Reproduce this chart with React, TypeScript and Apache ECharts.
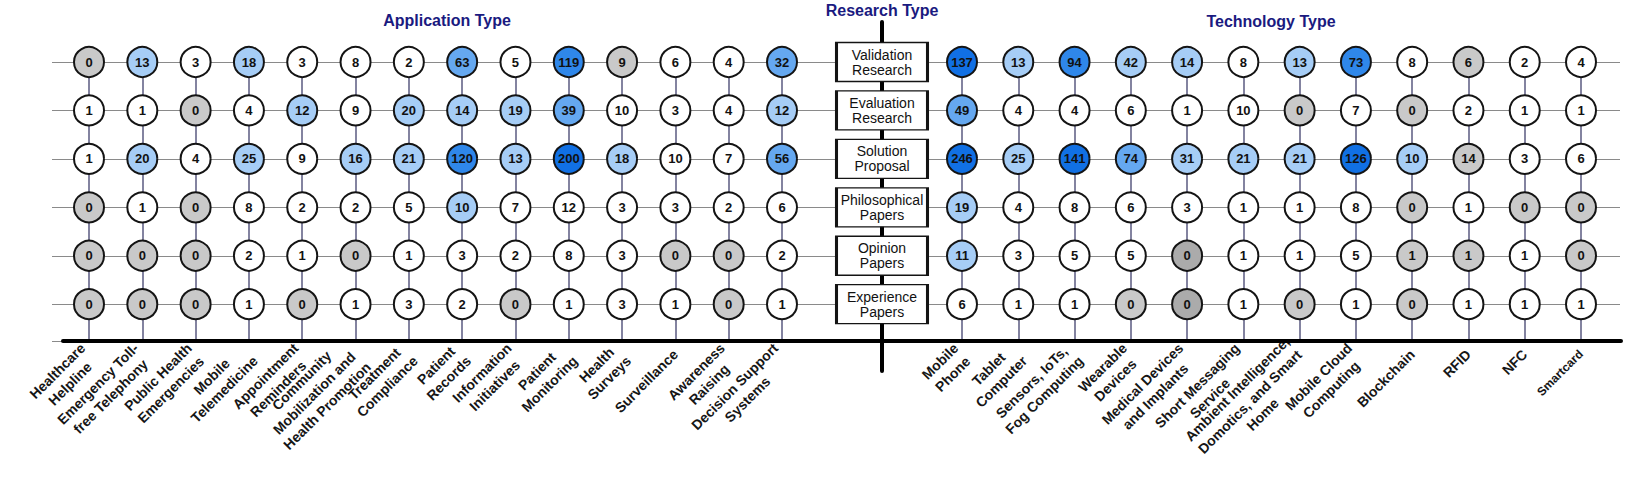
import React, { useEffect, useRef } from 'react';
import * as echarts from 'echarts';

// ---------------- data ----------------
const researchTypes = [
  'Validation\nResearch',
  'Evaluation\nResearch',
  'Solution\nProposal',
  'Philosophical\nPapers',
  'Opinion\nPapers',
  'Experience\nPapers',
];

const appCategories = [
  'Healthcare\nHelpline',
  'Emergency Toll-\nfree Telephony',
  'Public Health\nEmergencies',
  'Mobile\nTelemedicine',
  'Appointment\nReminders',
  'Community\nMobilization and\nHealth Promotion',
  'Treatment\nCompliance',
  'Patient\nRecords',
  'Information\nInitiatives',
  'Patient\nMonitoring',
  'Health\nSurveys',
  'Surveillance',
  'Awareness\nRaising',
  'Decision Support\nSystems',
];

// one array per column, rows top→bottom (Validation … Experience)
const appValues = [
  [0, 1, 1, 0, 0, 0],
  [13, 1, 20, 1, 0, 0],
  [3, 0, 4, 0, 0, 0],
  [18, 4, 25, 8, 2, 1],
  [3, 12, 9, 2, 1, 0],
  [8, 9, 16, 2, 0, 1],
  [2, 20, 21, 5, 1, 3],
  [63, 14, 120, 10, 3, 2],
  [5, 19, 13, 7, 2, 0],
  [119, 39, 200, 12, 8, 1],
  [9, 10, 18, 3, 3, 3],
  [6, 3, 10, 3, 0, 1],
  [4, 4, 7, 2, 0, 0],
  [32, 12, 56, 6, 2, 1],
];

// shade codes: w white, g grey, d dark grey, l light blue, m mid blue, b blue, x deep blue
const appShades = [
  'gwwggg',
  'lwlwgg',
  'wgwggg',
  'lwlwww',
  'wlwwwg',
  'wwlwgw',
  'wllwww',
  'mlblww',
  'wllwwg',
  'bmxwww',
  'gwlwww',
  'wwwwgw',
  'wwwwgg',
  'mlmwww',
];

const techCategories = [
  'Mobile\nPhone',
  'Tablet\nComputer',
  'Sensors, IoTs,\nFog Computing',
  'Wearable\nDevices',
  'Medical Devices\nand Implants',
  'Short Messaging\nService',
  'Ambient Intelligence,\nDomotics, and Smart\nHome',
  'Mobile Cloud\nComputing',
  'Blockchain',
  'RFID',
  'NFC',
  'Smartcard',
];

const techValues = [
  [137, 49, 246, 19, 11, 6],
  [13, 4, 25, 4, 3, 1],
  [94, 4, 141, 8, 5, 1],
  [42, 6, 74, 6, 5, 0],
  [14, 1, 31, 3, 0, 0],
  [8, 10, 21, 1, 1, 1],
  [13, 0, 21, 1, 1, 0],
  [73, 7, 126, 8, 5, 1],
  [8, 0, 10, 0, 1, 0],
  [6, 2, 14, 1, 1, 1],
  [2, 1, 3, 0, 1, 1],
  [4, 1, 6, 0, 0, 1],
];

const techShades = [
  'xmxllw',
  'lwlwww',
  'bwxwww',
  'lwmwwg',
  'lwlwdd',
  'wwlwww',
  'lglwwg',
  'bwxwww',
  'wglggg',
  'gwgwgw',
  'wwwgww',
  'wwwggw',
];

const titles = ['Application Type', 'Research Type', 'Technology Type'];

// ---------------- styling ----------------
const palette: Record<string, string> = {
  w: '#ffffff',
  g: '#c9c9c9',
  d: '#ababab',
  l: '#a6cdf6',
  m: '#65a8f0',
  b: '#2f87ea',
  x: '#1170e4',
};

const FONT = '"Liberation Sans", Arial, Helvetica, sans-serif';
const ROW_TOP = 62;
const BASE = 341;
const ROW_MAX = 5.76;
const UNIT = (BASE - ROW_TOP) / ROW_MAX;
const NAVY = '#1a1a80';

function circleData(values: number[][], shades: string[]) {
  const out: any[] = [];
  values.forEach((col, i) => {
    col.forEach((v, r) => {
      out.push({
        value: [i, r, v],
        itemStyle: { color: palette[shades[i][r]] },
      });
    });
  });
  return out;
}

function rowYAxis(gridIndex: number, showLines: boolean) {
  return {
    type: 'value',
    gridIndex,
    inverse: true,
    min: 0,
    max: ROW_MAX,
    interval: 1,
    show: showLines,
    axisLine: { show: false },
    axisTick: { show: false },
    axisLabel: { show: false },
    splitLine: { show: showLines, lineStyle: { color: '#8a8a8a', width: 1 } },
  };
}

const labelRich = {
  c: {
    align: 'center',
    fontSize: 14,
    fontWeight: 'bold',
    lineHeight: 18,
    color: '#161616',
    fontFamily: FONT,
  },
  s: {
    align: 'center',
    fontSize: 12,
    fontWeight: 'bold',
    lineHeight: 18,
    color: '#161616',
    fontFamily: FONT,
  },
};

function catXAxis(gridIndex: number, cats: any[]) {
  return {
    type: 'category',
    gridIndex,
    data: cats,
    boundaryGap: false,
    position: 'bottom',
    axisLine: { show: false, onZero: false },
    axisTick: { show: false, interval: 0 },
    axisLabel: {
      interval: 0,
      rotate: 45,
      margin: 11,
      fontSize: 14,
      fontWeight: 'bold',
      lineHeight: 18,
      color: '#161616',
      fontFamily: FONT,
      formatter: (v: string) =>
        v
          .split('\n')
          .map((line) => `{${v === 'Smartcard' ? 's' : 'c'}|${line}}`)
          .join('\n'),
      rich: labelRich,
    },
    splitLine: { show: true, interval: 0, lineStyle: { color: '#5a5a80', width: 1.5 } },
    z: 1,
  };
}

function circleSeries(idx: number, values: number[][], shades: string[]) {
  return {
    type: 'scatter',
    xAxisIndex: idx,
    yAxisIndex: idx,
    symbol: 'circle',
    symbolSize: 30,
    z: 5,
    itemStyle: { borderColor: '#141414', borderWidth: 2, opacity: 1 },
    label: {
      show: true,
      position: 'inside',
      formatter: (p: any) => String(p.value[2]),
      fontSize: 13,
      fontWeight: 'bold',
      color: '#111',
      fontFamily: FONT,
    },
    emphasis: { disabled: true },
    data: circleData(values, shades),
  };
}

export default function App() {
  const ref = useRef<HTMLDivElement>(null);

  useEffect(() => {
    if (!ref.current) return;
    const chart = echarts.init(ref.current, undefined, { renderer: 'svg' });

    const option: any = {
      animation: false,
      backgroundColor: '#ffffff',
      textStyle: { fontFamily: FONT },
      grid: [
        // 0 application
        { left: 89, top: ROW_TOP, width: 693, height: BASE - ROW_TOP },
        // 1 technology
        { left: 962, top: ROW_TOP, width: 619, height: BASE - ROW_TOP },
        // 2 horizontal row lines
        { left: 52, top: ROW_TOP, width: 1568, height: BASE - ROW_TOP },
        // 3 baseline
        { left: 63, top: ROW_TOP, width: 1558, height: BASE - ROW_TOP },
        // 4 research type column
        { left: 882, top: 22, width: 1, height: 349 },
      ],
      xAxis: [
        catXAxis(0, appCategories),
        catXAxis(1, techCategories),
        { type: 'value', gridIndex: 2, min: 0, max: 1, show: false },
        {
          type: 'value',
          gridIndex: 3,
          min: 0,
          max: 1,
          position: 'bottom',
          axisLine: { show: true, onZero: false, lineStyle: { color: '#000', width: 4 } },
          axisTick: { show: false },
          axisLabel: { show: false },
          splitLine: { show: false },
          z: 3,
        },
        { type: 'value', gridIndex: 4, min: 0, max: 1, show: false },
      ],
      yAxis: [
        rowYAxis(0, false),
        rowYAxis(1, false),
        rowYAxis(2, true),
        rowYAxis(3, false),
        {
          type: 'value',
          gridIndex: 4,
          inverse: true,
          min: -(ROW_TOP - 22) / UNIT,
          max: (371 - ROW_TOP) / UNIT,
          position: 'left',
          axisLine: { show: true, onZero: false, lineStyle: { color: '#000', width: 4 } },
          axisTick: { show: false },
          axisLabel: { show: false },
          splitLine: { show: false },
          z: 3,
        },
      ],
      series: [
        circleSeries(0, appValues, appShades),
        circleSeries(1, techValues, techShades),
        {
          type: 'scatter',
          xAxisIndex: 4,
          yAxisIndex: 4,
          symbol: 'rect',
          symbolSize: [91, 39],
          z: 6,
          itemStyle: { color: '#ffffff', borderColor: '#141414', borderWidth: 2, opacity: 1 },
          label: {
            show: true,
            position: 'inside',
            formatter: (p: any) => p.name,
            fontSize: 14,
            lineHeight: 15,
            color: '#111',
            fontFamily: FONT,
          },
          emphasis: { disabled: true },
          data: researchTypes.map((name, r) => ({ name, value: [0, r] })),
        },
      ],
      graphic: [
        { x: 447, y: 20, t: titles[0] },
        { x: 882, y: 10, t: titles[1] },
        { x: 1271, y: 21, t: titles[2] },
      ].map((d) => ({
        type: 'text',
        x: d.x,
        y: d.y,
        z: 10,
        style: {
          text: d.t,
          fill: NAVY,
          font: `bold 16px ${FONT}`,
          textAlign: 'center',
          textVerticalAlign: 'middle',
        },
      })),
    };

    chart.setOption(option);
    return () => chart.dispose();
  }, []);

  return (
    <div
      ref={ref}
      style={{ position: 'absolute', left: 0, top: 0, width: 1626, height: 484, background: '#fff' }}
    />
  );
}
